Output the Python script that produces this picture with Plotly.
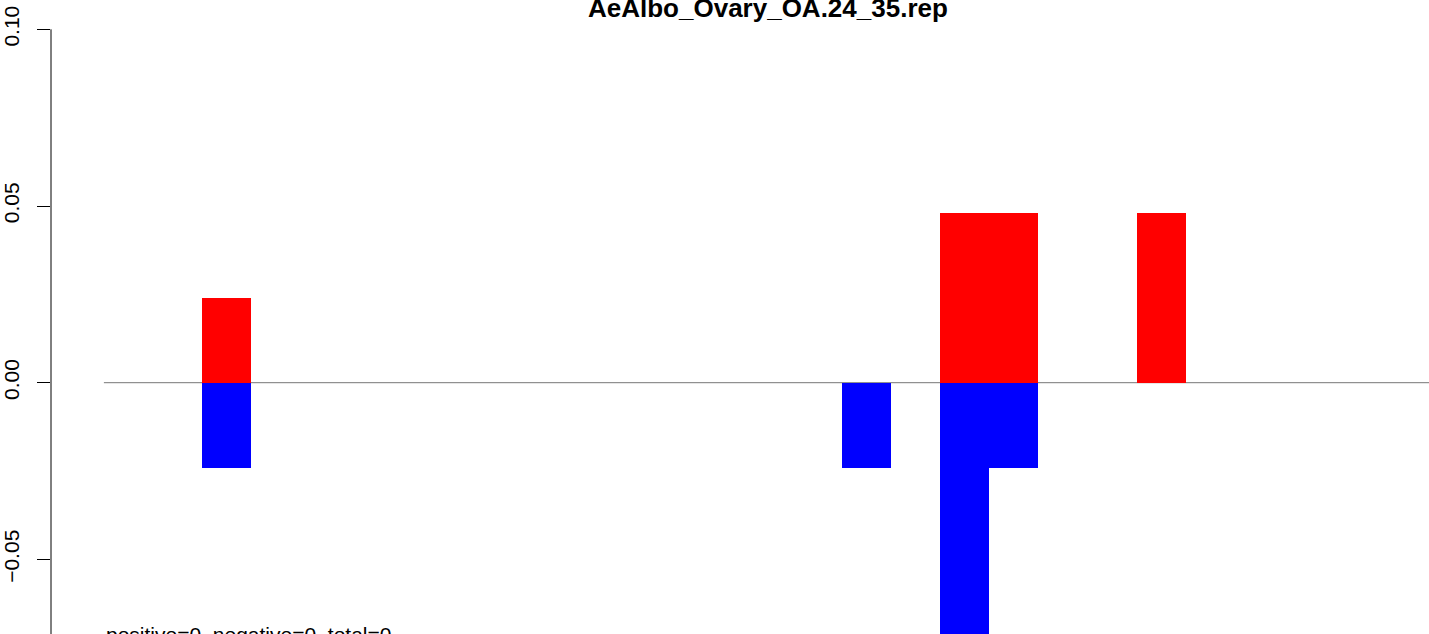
import plotly.graph_objects as go

# ---- data ----
title_text = "AeAlbo_Ovary_OA.24_35.rep"
footer_text = "positive=0, negative=0, total=0"
positions = list(range(27))
positive_vals = [0, 0, 0.024, 0, 0, 0, 0, 0, 0, 0, 0, 0, 0, 0, 0, 0, 0, 0.048, 0.048, 0, 0, 0.048, 0, 0, 0, 0, 0]
negative_vals = [0, 0, -0.024, 0, 0, 0, 0, 0, 0, 0, 0, 0, 0, 0, 0, -0.024, 0, -0.072, -0.024, 0, 0, 0, 0, 0, 0, 0, 0]
y_ticks = [-0.10, -0.05, 0.00, 0.05, 0.10]
y_tick_labels = ["\u22120.10", "\u22120.05", "0.00", "0.05", "0.10"]

FONT = "Liberation Sans, Arial, Helvetica, sans-serif"
W, H = 1429, 634
LEFT = 50.7
px_per_bar = 49.2
bar0_left = 103.6
px_per_unit = 3534.0
zero_px = 382.7

x_lo = (LEFT - bar0_left) / px_per_bar - 0.5
x_hi = (W - bar0_left) / px_per_bar - 0.5
y_hi = zero_px / px_per_unit
y_lo = -(H - zero_px) / px_per_unit

fig = go.Figure()
fig.add_trace(go.Bar(x=positions, y=positive_vals, width=1, marker=dict(color="#FF0000", line=dict(width=0)),
                     showlegend=False, hoverinfo="skip"))
fig.add_trace(go.Bar(x=positions, y=negative_vals, width=1, marker=dict(color="#0000FF", line=dict(width=0)),
                     showlegend=False, hoverinfo="skip"))

# zero line (beneath bars)
fig.add_shape(type="line", xref="x", yref="y", x0=-0.5, x1=positions[-1] + 3, y0=0, y1=0,
              line=dict(color="#777777", width=1), layer="below")
# y axis line from top tick to bottom tick
fig.add_shape(type="line", xref="paper", yref="y", x0=0, x1=0, y0=y_ticks[0], y1=y_ticks[-1],
              line=dict(color="black", width=1))

fig.add_annotation(text="<b>" + title_text + "</b>", xref="paper", yref="paper",
                   x=(767.5 - LEFT) / (W - LEFT), y=1 - 8.0 / H, xanchor="center", yanchor="middle",
                   showarrow=False, font=dict(family=FONT, size=26, color="black"))
fig.add_annotation(text=footer_text, xref="paper", yref="paper",
                   x=(103.5 - LEFT) / (W - LEFT), y=1 - 634.5 / H, xanchor="left", yanchor="middle",
                   showarrow=False, font=dict(family=FONT, size=21, color="black"))

fig.update_layout(
    width=W, height=H,
    margin=dict(l=LEFT, r=0, t=0, b=0, pad=0),
    paper_bgcolor="white", plot_bgcolor="white",
    barmode="overlay", bargap=0,
    font=dict(family=FONT, color="black"),
    xaxis=dict(range=[x_lo, x_hi], visible=False, showgrid=False, zeroline=False, automargin=False),
    yaxis=dict(range=[y_lo, y_hi], tickmode="array", tickvals=y_ticks, ticktext=y_tick_labels,
               ticks="outside", ticklen=13, tickwidth=1, tickcolor="black", tickangle=-90,
               ticklabelstandoff=10, ticklabeloverflow="allow", automargin=False,
               tickfont=dict(family=FONT, size=21, color="black"),
               showgrid=False, zeroline=False, showline=False),
)

fig.write_html("out.html", config={"displayModeBar": False},
               post_script="document.body.style.margin='0px';")
